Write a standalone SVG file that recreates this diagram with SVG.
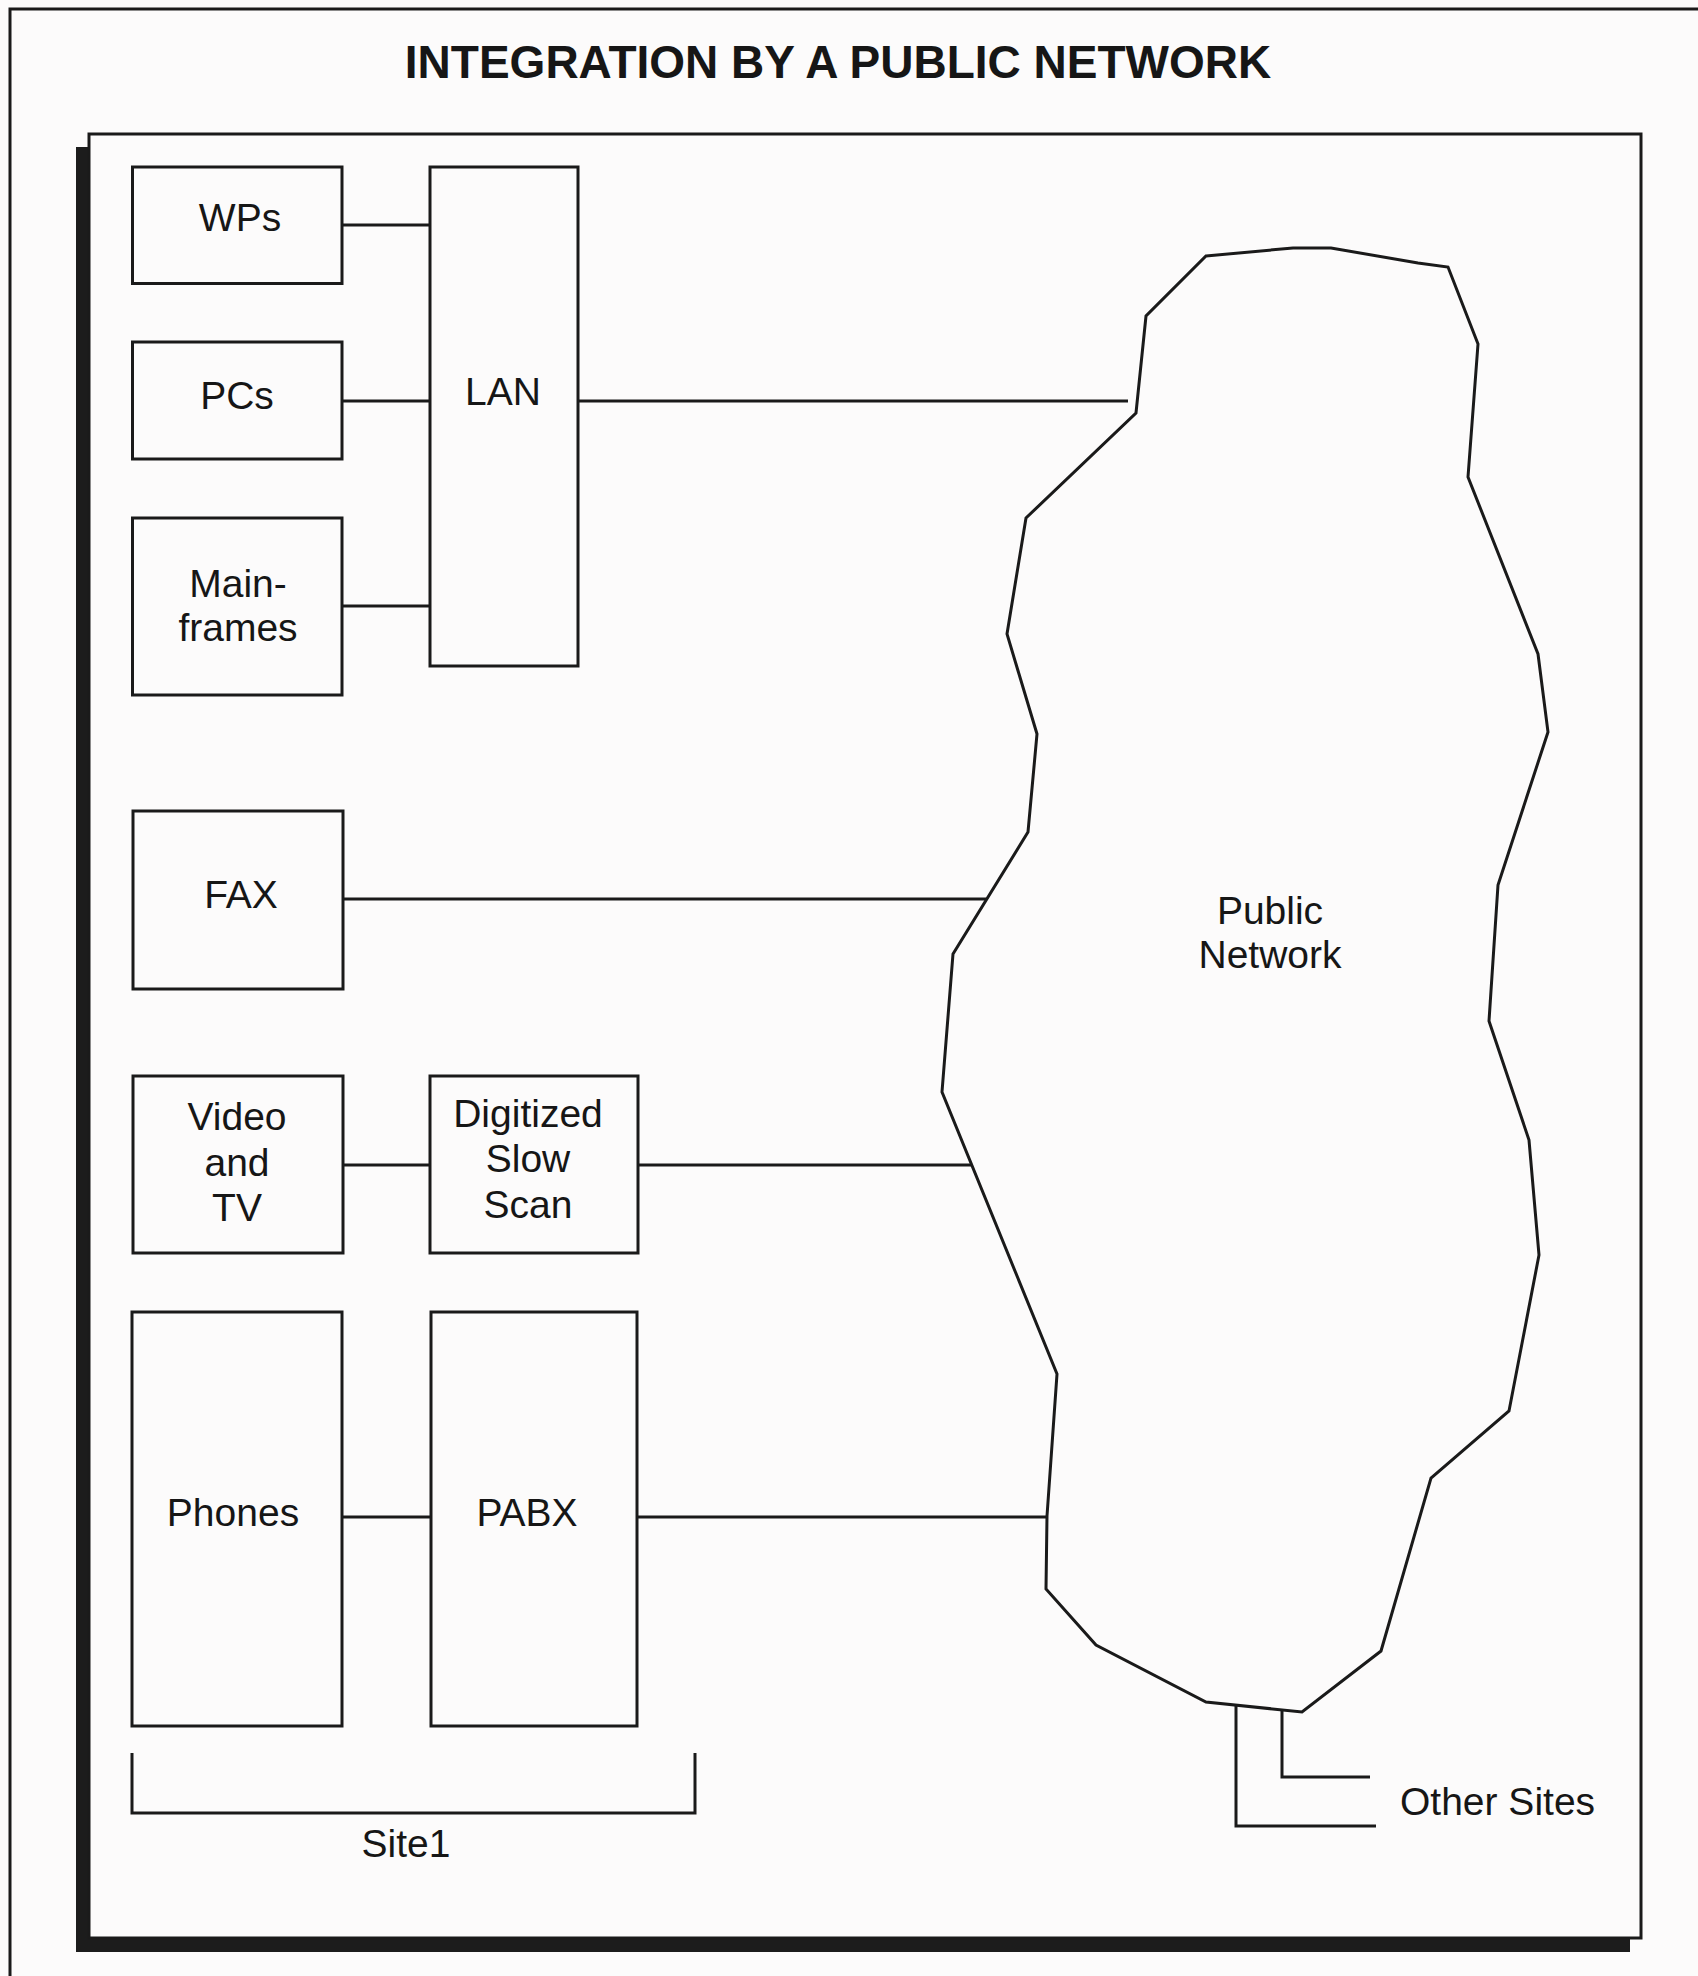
<svg xmlns="http://www.w3.org/2000/svg" width="1698" height="1976" viewBox="0 0 1698 1976">
<style>
  .bg{fill:#fcfbfb}
  .box{fill:none;stroke:#1a1a1a;stroke-width:3}
  .ln{fill:none;stroke:#1a1a1a;stroke-width:3;stroke-linejoin:miter}
  .t{font-family:"Liberation Sans",Arial,sans-serif;font-size:39px;fill:#161616;text-anchor:middle}
  .title{font-family:"Liberation Sans",Arial,sans-serif;font-size:46px;font-weight:bold;fill:#161616;text-anchor:middle}
  .shadow{fill:#1c1c1c}
</style>
<rect class="bg" x="0" y="0" width="1698" height="1976"/>
<g id="page-border">
  <path class="ln" d="M10,1976 V9 H1698" stroke-width="2"/>
</g>
<text class="title" x="838" y="78">INTEGRATION BY A PUBLIC NETWORK</text>
<g id="frame">
  <rect class="shadow" x="76" y="147" width="14" height="1805"/>
  <rect class="shadow" x="76" y="1938" width="1554" height="14"/>
  <rect class="box" x="89" y="134" width="1552" height="1804"/>
</g>
<g id="connectors">
  <line class="ln" x1="342" y1="225" x2="430" y2="225"/>
  <line class="ln" x1="342" y1="401" x2="430" y2="401"/>
  <line class="ln" x1="342" y1="606" x2="430" y2="606"/>
  <line class="ln" x1="578" y1="401" x2="1128" y2="401"/>
  <line class="ln" x1="343" y1="899" x2="986" y2="899"/>
  <line class="ln" x1="343" y1="1165" x2="430" y2="1165"/>
  <line class="ln" x1="638" y1="1165" x2="971" y2="1165"/>
  <line class="ln" x1="342" y1="1517" x2="431" y2="1517"/>
  <line class="ln" x1="637" y1="1517" x2="1047" y2="1517"/>
  <polyline class="ln" points="1282,1711 1282,1777 1370,1777"/>
  <polyline class="ln" points="1236,1706 1236,1826 1376,1826"/>
</g>
<g id="wps"><rect class="box" x="132.5" y="167" width="209.5" height="116.5"/><text class="t" x="240" y="231">WPs</text></g>
<g id="pcs"><rect class="box" x="132.5" y="342" width="209.5" height="117"/><text class="t" x="237" y="409">PCs</text></g>
<g id="mainframes"><rect class="box" x="132.5" y="518" width="209.5" height="177"/><text class="t" x="238" y="597">Main-</text><text class="t" x="238" y="641">frames</text></g>
<g id="lan"><rect class="box" x="430" y="167" width="148" height="499"/><text class="t" x="503" y="405">LAN</text></g>
<g id="fax"><rect class="box" x="133" y="811" width="210" height="178"/><text class="t" x="241" y="908">FAX</text></g>
<g id="video"><rect class="box" x="133" y="1076" width="210" height="177"/><text class="t" x="237" y="1130">Video</text><text class="t" x="237" y="1176">and</text><text class="t" x="237" y="1221">TV</text></g>
<g id="digitized"><rect class="box" x="430" y="1076" width="208" height="177"/><text class="t" x="528" y="1127">Digitized</text><text class="t" x="528" y="1172">Slow</text><text class="t" x="528" y="1218">Scan</text></g>
<g id="phones"><rect class="box" x="132" y="1312" width="210" height="414"/><text class="t" x="233" y="1526">Phones</text></g>
<g id="pabx"><rect class="box" x="431" y="1312" width="206" height="414"/><text class="t" x="527" y="1526">PABX</text></g>
<g id="public-network">
  <polygon class="ln" points="1206,256 1293,248 1331,248 1418,263 1448,267 1478,344 1468,477 1538,654 1548,732 1498,885 1489,1021 1529,1140 1539,1255 1509,1411 1431,1478 1381,1651 1302,1712 1206,1702 1096,1645 1046,1589 1047,1516 1057,1374 942,1092 953,954 1028,832 1037,734 1007,634 1026,518 1136,413 1146,316"/>
  <text class="t" x="1270" y="924">Public</text>
  <text class="t" x="1270" y="968">Network</text>
</g>
<g id="site1">
  <polyline class="ln" points="132,1753 132,1813 695,1813 695,1753"/>
  <text class="t" x="406" y="1857">Site1</text>
</g>
<g id="other-sites">
  <text class="t" x="1400" y="1815" style="text-anchor:start">Other Sites</text>
</g>
</svg>
